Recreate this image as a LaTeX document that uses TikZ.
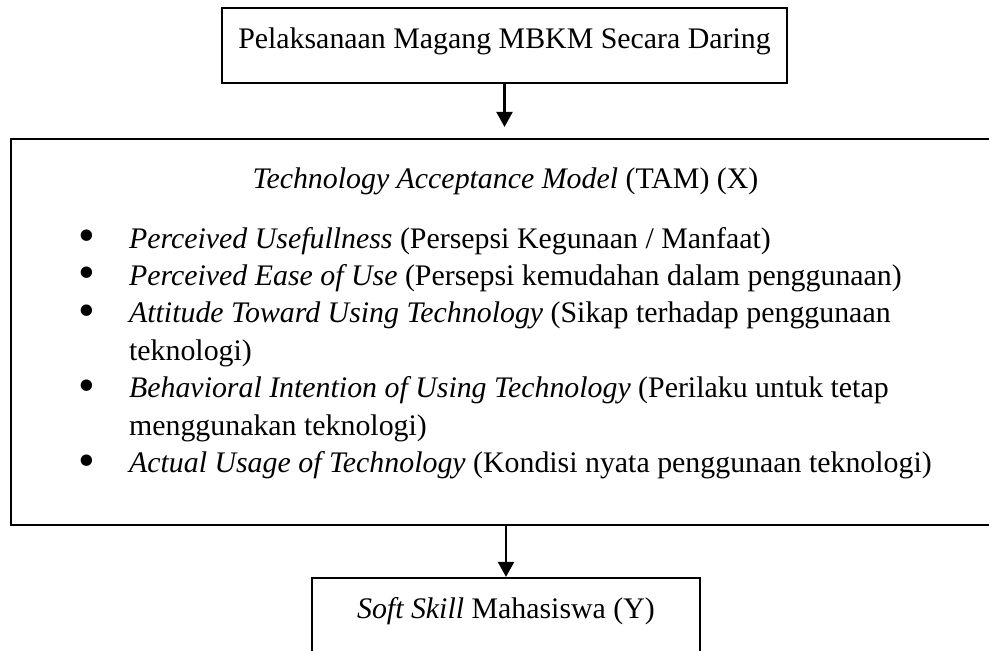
\documentclass[tikz,border=0pt]{standalone}
\usepackage{fontspec}
\setmainfont{Liberation Serif}
\usepackage{graphicx}
\usepackage{tikz}
\usetikzlibrary{arrows.meta}

\newcommand{\bigbullet}{\smash{\raisebox{-2pt}{\scalebox{1.6}{\textbullet}}}}

\begin{document}
\begin{tikzpicture}[x=0.02cm,y=-0.02cm,->,>={Triangle[length=0.3cm,width=0.32cm]},line width=0.045cm,font=\fontsize{17}{21.3}\selectfont]
  \tikzstyle{box}=[draw,rectangle,inner sep=0pt,text height=0.41cm,text depth=0.31cm]

  \useasboundingbox (0,0) rectangle (989,650);
  \clip (0,0) rectangle (989,650);

  \node[box,minimum width=11.3cm,minimum height=1.5cm]		(top)	at (504.5,45.5)	{Pelaksanaan Magang MBKM Secara Daring};
  \node[box,minimum width=19.76cm,minimum height=7.72cm]	(tam)	at (505,332)	{};
  \node[box,minimum width=7.76cm,minimum height=1.5cm]		(soft)	at (506,615.5)	{\textit{Soft Skill} Mahasiswa (Y)};

  % isi kotak TAM
  \node[anchor=base,inner sep=0pt]	(tamtitle)	at (505.5,188)	{\textit{Technology Acceptance Model} (TAM) (X)};
  \node[anchor=base west,inner sep=0pt]	(tamlist)	at (77,248)	{%
	\begin{tabular}[t]{@{}p{1.02cm}@{}l@{}}
	\bigbullet	& \textit{Perceived Usefullness} (Persepsi Kegunaan / Manfaat)\\
	\bigbullet	& \textit{Perceived Ease of Use} (Persepsi kemudahan dalam penggunaan)\\
	\bigbullet	& \textit{Attitude Toward Using Technology} (Sikap terhadap penggunaan\\
			& teknologi)\\
	\bigbullet	& \textit{Behavioral Intention of Using Technology} (Perilaku untuk tetap\\
			& menggunakan teknologi)\\
	\bigbullet	& \textit{Actual Usage of Technology} (Kondisi nyata penggunaan teknologi)
	\end{tabular}};

  \path		(top.south)		edge	[shorten >=0.22cm]	(top.south |- tam.north)
		(soft.north |- tam.south)	edge				(soft.north);
\end{tikzpicture}
\end{document}
